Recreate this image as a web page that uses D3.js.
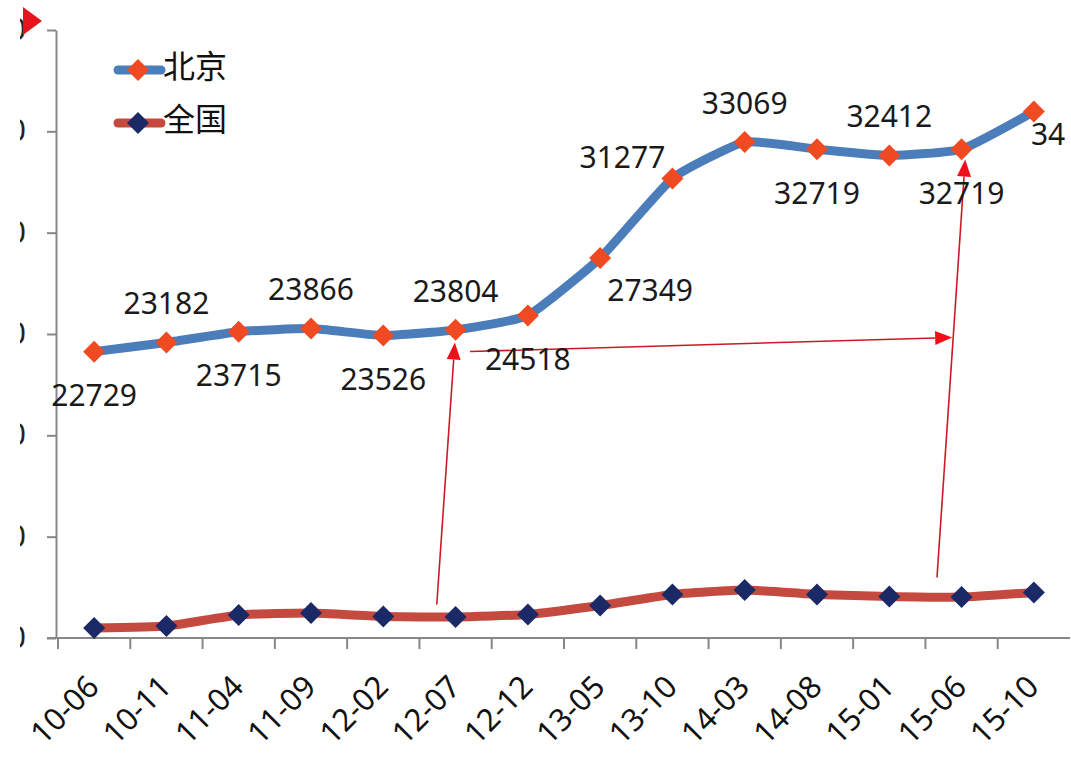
<!DOCTYPE html>
<html>
<head>
<meta charset="utf-8">
<script src="https://cdn.jsdelivr.net/npm/d3@7"></script>
<style>
html,body{margin:0;padding:0;background:#fff;}
svg{display:block;}
</style>
</head>
<body>
<svg id="chart" width="1071" height="772"></svg>
<script>
// ---- data ----
const categories = ["10-06","10-11","11-04","11-09","12-02","12-07","12-12","13-05","13-10","14-03","14-08","15-01","15-06","15-10"];
const beijing  = [22729,23182,23715,23866,23526,23804,24518,27349,31277,33069,32719,32412,32719,34580];
const national = [9090,9190,9740,9830,9660,9640,9760,10200,10750,10970,10750,10650,10620,10850];
const seriesNames = ["北京","全国"];
const beijingLabelSide = ["b","a","b","a","b","a","b","rb","la","a","b","a","b","re"];
const yTicks = d3.range(8600, 38601, 5000);
// annotation arrows, in (category index, value) space
const arrows = [
  {from:[4.74,10253], to:[4.99,23179]},
  {from:[5.20,22735], to:[11.87,23426]},
  {from:[11.66,11585], to:[12.05,32205]}
];

// ---- layout ----
const W = 1071, H = 772;
const svg = d3.select("#chart");
svg.append("rect").attr("width",W).attr("height",H).attr("fill","#fff");
const defs = svg.append("defs");
defs.append("clipPath").attr("id","clipR")
  .append("rect").attr("x",0).attr("y",0).attr("width",1066).attr("height",H);
// the reference picture is cropped on the left: only a sliver of each y tick label shows
defs.append("clipPath").attr("id","clipL")
  .append("rect").attr("x",-36).attr("y",-40).attr("width",40).attr("height",80);

const x = d3.scaleBand().domain(categories).range([58,1070]).padding(0);
const cx = i => x(categories[0]) + x.bandwidth()/2 + i*x.step();
const y = d3.scaleLinear().domain([8600,38600]).range([638,30]);
const axisColor = "#878787";
const font = "'Noto Sans','Open Sans',sans-serif";

// y axis
const yAxis = svg.append("g").attr("transform","translate(56,0)")
  .call(d3.axisLeft(y).tickValues(yTicks).tickSize(9).tickSizeOuter(0).tickPadding(21).tickFormat(d3.format("d")));
yAxis.select(".domain").attr("stroke",axisColor).attr("stroke-width",2);
yAxis.selectAll(".tick line").attr("stroke",axisColor).attr("stroke-width",2);
yAxis.selectAll(".tick text").attr("font-family",font).attr("font-size",30).attr("fill","#222")
  .attr("clip-path","url(#clipL)");

// x axis
const xg = svg.append("g").attr("transform","translate(0,638)");
xg.append("line").attr("x1",47).attr("x2",x.range()[1]).attr("y1",0).attr("y2",0)
  .attr("stroke",axisColor).attr("stroke-width",2);
xg.selectAll("line.tk").data(d3.range(categories.length)).join("line").attr("class","tk")
  .attr("x1",i=>x(categories[i])).attr("x2",i=>x(categories[i]))
  .attr("y1",0).attr("y2",11).attr("stroke",axisColor).attr("stroke-width",2);
xg.selectAll("text").data(categories).join("text")
  .attr("transform",d=>`translate(${x(d)+x.bandwidth()/2-1},${43}) rotate(-45)`)
  .attr("text-anchor","end").attr("dy","0.35em")
  .attr("font-family",font).attr("font-size",31).attr("fill","#111")
  .text(d=>d);

// lines
const line = d3.line().x((d,i)=>cx(i)).y(d=>y(d)).curve(d3.curveCardinal.tension(0.55));
const diamond = r => `M0,${-r}L${r},0L0,${r}L${-r},0Z`;

svg.append("path").datum(national).attr("d",line).attr("fill","none")
  .attr("stroke","#c4493f").attr("stroke-width",9).attr("stroke-linecap","round").attr("stroke-linejoin","round");
svg.append("path").datum(beijing).attr("d",line).attr("fill","none")
  .attr("stroke","#4a7dba").attr("stroke-width",9).attr("stroke-linecap","round").attr("stroke-linejoin","round");

svg.append("g").selectAll("path").data(national).join("path")
  .attr("transform",(d,i)=>`translate(${cx(i)},${y(d)})`).attr("d",diamond(11)).attr("fill","#1b2966");
svg.append("g").selectAll("path").data(beijing).join("path")
  .attr("transform",(d,i)=>`translate(${cx(i)},${y(d)})`).attr("d",diamond(11)).attr("fill","#f04a22");

// annotation arrows
const ax = p => cx(0) + p[0]*x.step();
const ay = p => y(p[1]);
const ag = svg.append("g");
arrows.forEach(a=>{
  const x1=ax(a.from), y1=ay(a.from), x2=ax(a.to), y2=ay(a.to);
  const ang = Math.atan2(y2-y1, x2-x1);
  const L = 17, Wd = 7;
  const bx = x2 - L*Math.cos(ang), by = y2 - L*Math.sin(ang);
  ag.append("line").attr("x1",x1).attr("y1",y1).attr("x2",bx).attr("y2",by)
    .attr("stroke","#cc1a24").attr("stroke-width",1.6);
  const px = -Math.sin(ang)*Wd, py = Math.cos(ang)*Wd;
  ag.append("path").attr("d",`M${x2},${y2}L${bx+px},${by+py}L${bx-px},${by-py}Z`).attr("fill","#f0101a");
});

// data labels (Beijing)
const labelOffset = {a:[0,-39], b:[0,44], rb:[50,32], la:[-50,-21], re:[40,23]};
svg.append("g").attr("clip-path","url(#clipR)").selectAll("text").data(beijing).join("text")
  .attr("x",(d,i)=>cx(i)+labelOffset[beijingLabelSide[i]][0])
  .attr("y",(d,i)=>y(d)+labelOffset[beijingLabelSide[i]][1])
  .attr("dy","0.36em").attr("text-anchor","middle")
  .attr("font-family",font).attr("font-size",30).attr("fill","#1a1a1a")
  .text(d=>d);

// legend
const legendColors = [["#4a7dba","#f04a22"],["#c4493f","#1b2966"]];
const lg = svg.append("g");
seriesNames.forEach((n,k)=>{
  const ly = 70 + k*53;
  lg.append("line").attr("x1",118).attr("x2",161).attr("y1",ly).attr("y2",ly)
    .attr("stroke",legendColors[k][0]).attr("stroke-width",9).attr("stroke-linecap","round");
  lg.append("path").attr("transform",`translate(138,${ly})`).attr("d",diamond(11)).attr("fill",legendColors[k][1]);
  lg.append("text").attr("x",163).attr("y",ly-4).attr("dy","0.36em")
    .attr("font-family","'Noto Sans CJK SC',sans-serif").attr("font-size",32).attr("fill","#111").text(n);
});

// red marker at top-left corner
svg.append("path").attr("d","M23,7L42,21L23,35Z").attr("fill","#e8141c");
</script>
</body>
</html>
